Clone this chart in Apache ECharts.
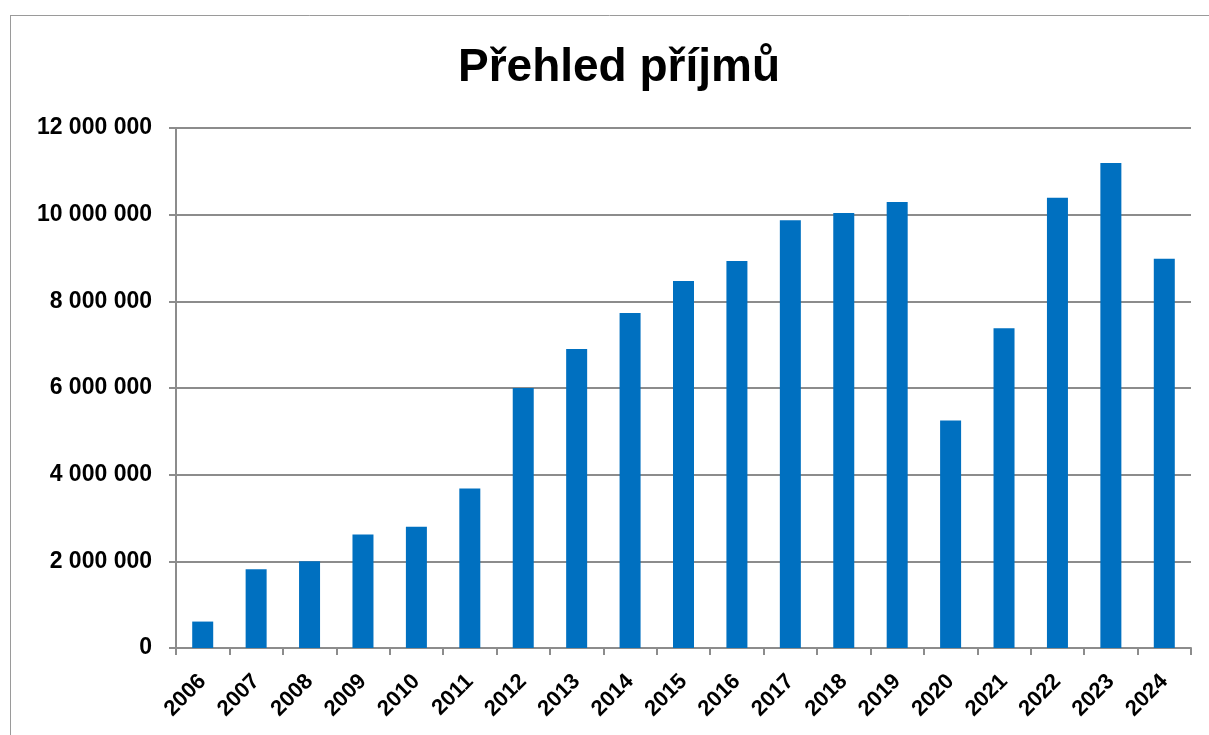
<!DOCTYPE html>
<html>
<head>
<meta charset="utf-8">
<script src="https://cdn.jsdelivr.net/npm/echarts@6/dist/echarts.min.js"></script>
<style>
  html, body { margin: 0; padding: 0; background: #fff; }
  #chart { width: 1209px; height: 735px; }
</style>
</head>
<body>
<div id="chart"></div>
<script>
var years = ['2006','2007','2008','2009','2010','2011','2012','2013','2014','2015',
             '2016','2017','2018','2019','2020','2021','2022','2023','2024'];
var income = [610000, 1820000, 2000000, 2620000, 2800000, 3680000, 6000000, 6900000, 7730000, 8470000,
              8930000, 9870000, 10040000, 10290000, 5250000, 7380000, 10390000, 11190000, 8980000];
var yTicks = [0, 2000000, 4000000, 6000000, 8000000, 10000000, 12000000];

// 12000000 -> "12 000 000"
function fmt(v){
    return String(v).replace(/\B(?=(\d{3})+(?!\d))/g, ' ');
}

var chart = echarts.init(document.getElementById('chart'));
chart.setOption({
    animation: false,
    backgroundColor: '#fff',
    title: {
        text: 'Přehled příjmů',
        left: 614,
        textAlign: 'center',
        top: 40,
        textStyle: {
            fontFamily: 'Liberation Sans',
            fontWeight: 'bold',
            fontSize: 46,
            color: '#000'
        }
    },
    graphic: [
        { type: 'line', shape: {x1: 10.5, y1: 15, x2: 10.5, y2: 735}, style: {stroke: '#9a9a9a', lineWidth: 1} },
        { type: 'line', shape: {x1: 10, y1: 15.5, x2: 1209, y2: 15.5}, style: {stroke: '#9a9a9a', lineWidth: 1} }
    ],
    grid: {
        left: 176,
        right: 18,
        top: 128,
        bottom: 87
    },
    xAxis: {
        type: 'category',
        data: years,
        axisLine: { lineStyle: { color: '#8c8c8c', width: 2 } },
        axisTick: { show: true, length: 7, lineStyle: { color: '#8c8c8c', width: 2 } },
        axisLabel: {
            rotate: 45,
            margin: 30,
            interval: 0,
            color: '#000',
            fontFamily: 'Liberation Sans',
            fontWeight: 'bold',
            fontSize: 22
        }
    },
    yAxis: {
        type: 'value',
        min: 0,
        max: 12000000,
        interval: 2000000,
        axisLine: { show: true, lineStyle: { color: '#8c8c8c', width: 2 } },
        axisTick: { show: true, length: 7, lineStyle: { color: '#8c8c8c', width: 2 } },
        splitLine: { show: true, lineStyle: { color: '#8c8c8c', width: 2 } },
        axisLabel: {
            margin: 24,
            color: '#000',
            fontFamily: 'Liberation Sans',
            fontWeight: 'bold',
            fontSize: 23,
            formatter: function(v){ return yTicks.indexOf(v) >= 0 ? fmt(v) : ''; }
        }
    },
    series: [{
        type: 'bar',
        data: income,
        barWidth: 21,
        itemStyle: { color: '#0070c0' }
    }]
});
</script>
</body>
</html>
